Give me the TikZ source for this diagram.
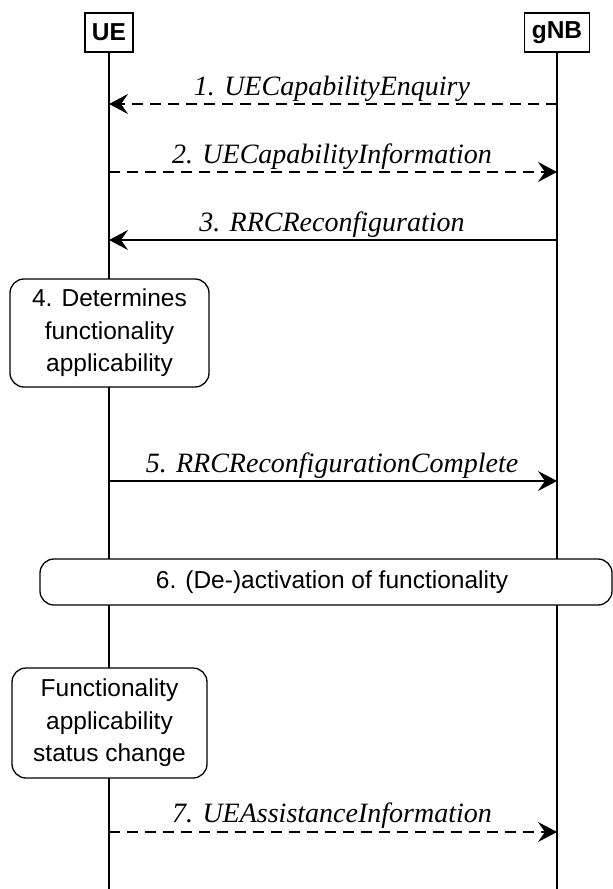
\documentclass[tikz,border=0pt]{standalone}
\usepackage{fontspec}
\setmainfont{Liberation Serif}
\newfontfamily\arialf{Liberation Sans}
\usetikzlibrary{arrows.meta}
\begin{document}
\begin{tikzpicture}[x=1pt,y=-1pt,
  every node/.style={inner sep=0pt, outer sep=0pt},
  entity/.style={draw, line width=1.3pt, minimum height=39pt, font=\arialf\bfseries\fontsize{24.5}{28}\selectfont},
  life/.style={line width=1.3pt},
  msg/.style={line width=1.3pt, -{Stealth[length=19pt,width=20pt,inset=7pt]}},
  dmsg/.style={msg, dash pattern=on 11pt off 7pt},
  msglabel/.style={anchor=base, font=\itshape\fontsize{28}{32}\selectfont},
  proc/.style={draw, line width=1.3pt, rounded corners=14pt, align=center, font=\arialf\fontsize{24.5}{32.5}\selectfont}
]
\useasboundingbox (0,0) rectangle (613,889);

% entities
\node[entity, minimum width=48pt] (ue) at (109,32.5) {UE};
\node[entity, minimum width=65pt] (gnb) at (557,32.5) {gNB};

% lifeline ends
\coordinate (ueend) at (109,889);
\coordinate (gnbend) at (557,889);
\draw[life] (ue.south) -- (ueend);
\draw[life] (gnb.south) -- (gnbend);

% message points
\coordinate (ue1) at (109,104); \coordinate (gnb1) at (557,104);
\coordinate (ue2) at (109,172); \coordinate (gnb2) at (557,172);
\coordinate (ue3) at (109,240); \coordinate (gnb3) at (557,240);
\coordinate (ue5) at (109,481); \coordinate (gnb5) at (557,481);
\coordinate (ue7) at (109,832); \coordinate (gnb7) at (557,832);

% procedure boxes (filled white over the lifelines)
\node[proc, fill=white, minimum width=199pt, minimum height=108pt] (p4) at (109.5,333)
  {4. Determines\\functionality\\applicability};
\node[proc, fill=white, minimum width=572pt, minimum height=46pt] (p6) at (326,582)
  {\hspace*{12pt}6. (De-)activation of functionality};
\node[proc, fill=white, minimum width=195pt, minimum height=110pt] (pf) at (109.5,723)
  {Functionality\\applicability\\status change};

% messages
\draw[dmsg] (gnb1) -- (ue1);
\node[msglabel] (l1) at (332,95) {1. UECapabilityEnquiry};
\draw[dmsg] (ue2) -- (gnb2);
\node[msglabel] (l2) at (332,163) {2. UECapabilityInformation};
\draw[msg] (gnb3) -- (ue3);
\node[msglabel] (l3) at (332,231) {3. RRCReconfiguration};
\draw[msg] (ue5) -- (gnb5);
\node[msglabel] (l5) at (332,472) {5. RRCReconfigurationComplete};
\draw[dmsg] (ue7) -- (gnb7);
\node[msglabel] (l7) at (332,822) {7. UEAssistanceInformation};
\end{tikzpicture}
\end{document}
